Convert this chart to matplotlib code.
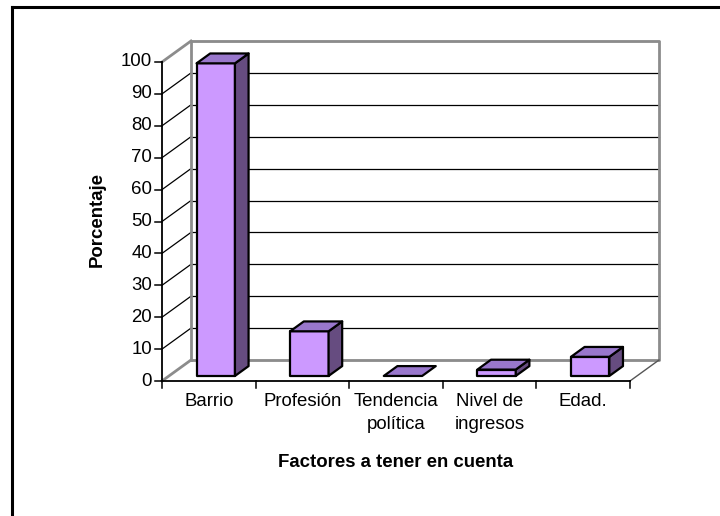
import matplotlib
matplotlib.use("Agg")
import matplotlib.pyplot as plt
from matplotlib.patches import Polygon
from matplotlib.lines import Line2D

plt.rcParams['font.family'] = ['Liberation Sans', 'DejaVu Sans']

categories = ["Barrio", "Profesión", "Tendencia\npolítica", "Nivel de\ningresos", "Edad."]
values = [98, 14, 0, 2, 6]
y_ticks = [0, 10, 20, 30, 40, 50, 60, 70, 80, 90, 100]
x_title = "Factores a tener en cuenta"
y_title = "Porcentaje"

W, H, DPI = 720, 516, 100
fig = plt.figure(figsize=(W / DPI, H / DPI), dpi=DPI)
ax = fig.add_axes([0, 0, 1, 1])
ax.set_axis_off()

# mapping: front plane x0 at px 162, category width 93.6 px; y 0 at px 381, 3.19 px/unit
X0, CW = 162.0, 93.6
Y0, VS = 381.0, 3.19
ax.set_xlim(-X0 / CW, (W - X0) / CW)
ax.set_ylim(-(H - Y0) / VS, Y0 / VS)

n = len(categories)
DX, DY = 29 / CW, 21 / VS      # full depth offset in data units
F0, F1 = 0.24, 0.71            # bar depth fractions
BW = 0.41
FS = 13.4
front_col, top_col, side_col = "#CC99FF", "#9977CC", "#664C80"
gray = "#8C8C8C"

# back wall gridlines and side wall diagonals
for t in y_ticks:
    ax.plot([DX, n + DX], [t + DY, t + DY], color="black", lw=0.9, zorder=1)
    if t not in (0, 100):
        ax.plot([0, DX], [t, t + DY], color="black", lw=0.9, zorder=1)
# back wall frame
ax.plot([DX, n + DX, n + DX, DX, DX], [DY, DY, 100 + DY, 100 + DY, DY], color=gray, lw=2, zorder=2)
# side wall top / bottom diagonals and floor right edge
ax.plot([0, DX], [100, 100 + DY], color=gray, lw=2, zorder=2)
ax.plot([0, DX], [0, DY], color=gray, lw=2, zorder=2)
ax.plot([n, n + DX], [0, DY], color="#555555", lw=1.0, zorder=2)

# front axes
ax.plot([0, 0], [0, 100], color="black", lw=1.3, zorder=3)
ax.plot([0, n], [0, 0], color="black", lw=1.3, zorder=3)
for t in y_ticks:
    ax.plot([-0.075, 0], [t, t], color="black", lw=1.1, zorder=3)
    ax.text(-0.107, t, str(t), ha="right", va="center", fontsize=FS)
for i in range(n + 1):
    ax.plot([i, i], [0, -2.2], color="black", lw=1.1, zorder=3)

# bars
for i, v in enumerate(values):
    cx = i + 0.5
    xl, xr = cx - BW / 2, cx + BW / 2
    ox0, oy0 = F0 * DX, F0 * DY
    ox1, oy1 = F1 * DX, F1 * DY
    kw = dict(ec="black", lw=1.6, joinstyle="round", zorder=5)
    if v > 0:
        ax.add_patch(Polygon([(xl + ox0, oy0), (xr + ox0, oy0), (xr + ox0, v + oy0), (xl + ox0, v + oy0)],
                             closed=True, fc=front_col, **kw))
        ax.add_patch(Polygon([(xr + ox0, oy0), (xr + ox1, oy1), (xr + ox1, v + oy1), (xr + ox0, v + oy0)],
                             closed=True, fc=side_col, **kw))
    ax.add_patch(Polygon([(xl + ox0, v + oy0), (xr + ox0, v + oy0), (xr + ox1, v + oy1), (xl + ox1, v + oy1)],
                         closed=True, fc=top_col, **kw))
    ax.text(cx, -3.9, categories[i], ha="center", va="top", fontsize=FS, linespacing=1.45)

ax.text(n / 2, -25.4, x_title, ha="center", va="center", fontsize=FS, fontweight="bold")
ax.text((97 - X0) / CW, 50.5, y_title, ha="center", va="center", rotation=90, fontsize=FS, fontweight="bold")

# outer chart border (left and top visible)
fig.add_artist(Line2D([11.5 / W, 11.5 / W], [0, 1 - 7 / H], transform=fig.transFigure, color="black", lw=2.2))
fig.add_artist(Line2D([11.5 / W, 1], [1 - 7 / H, 1 - 7 / H], transform=fig.transFigure, color="black", lw=2.2))

fig.savefig("out.png", dpi=DPI)
